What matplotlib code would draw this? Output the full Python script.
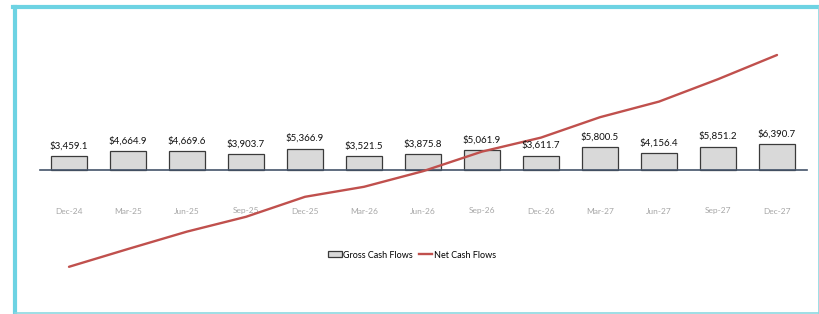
import matplotlib
matplotlib.use("Agg")
import matplotlib.pyplot as plt
from matplotlib.patches import Rectangle
from matplotlib.lines import Line2D

categories = ["Dec-24", "Mar-25", "Jun-25", "Sep-25", "Dec-25", "Mar-26", "Jun-26",
              "Sep-26", "Dec-26", "Mar-27", "Jun-27", "Sep-27", "Dec-27"]
gross_cash_flows = [3459.1, 4664.9, 4669.6, 3903.7, 5366.9, 3521.5, 3875.8,
                    5061.9, 3611.7, 5800.5, 4156.4, 5851.2, 6390.7]
net_cash_flows = [-24200, -19750, -15400, -11700, -6700, -4200, -300,
                  4600, 8100, 13200, 17100, 22700, 28750]

W, H = 820, 314
fig = plt.figure(figsize=(W / 100, H / 100), dpi=100)
fig.patch.set_facecolor("white")

ax = fig.add_axes([39.5 / W, 1 - 290 / H, (806.5 - 39.5) / W, 270 / H])
ax.set_facecolor("none")
x = list(range(len(categories)))

ax.bar(x, gross_cash_flows, width=0.6, color="#D9D9D9", edgecolor="#3A3A3A",
       linewidth=0.9, zorder=2)
ax.plot(x, net_cash_flows, color="#C0504D", linewidth=1.7, zorder=4,
        solid_capstyle="round")

for xi, v in zip(x, gross_cash_flows):
    ax.annotate(f"${v:,.1f}", (xi, v), xytext=(0, 4), textcoords="offset points",
                ha="center", va="bottom", fontsize=7, color="#111111",
                family="Lato", zorder=5)

ax.set_xlim(-0.5, len(categories) - 0.5)
ax.set_ylim(-30000, 37500)
for s in ["top", "right", "left"]:
    ax.spines[s].set_visible(False)
ax.spines["bottom"].set_position(("data", 0))
ax.spines["bottom"].set_color("#44546A")
ax.spines["bottom"].set_linewidth(1.2)
ax.spines["bottom"].set_zorder(3)
ax.set_yticks([])
ax.set_xticks(x)
ax.set_xticklabels(categories, fontsize=6, color="#A6A6A6", family="Lato")
ax.tick_params(axis="x", length=0, pad=27)

handles = [Rectangle((0, 0), 1, 1, facecolor="#D9D9D9", edgecolor="#3A3A3A", linewidth=0.9),
           Line2D([0], [0], color="#C0504D", linewidth=1.7)]
fig.legend(handles, ["Gross Cash Flows", "Net Cash Flows"], loc="center",
           bbox_to_anchor=(412 / W, 1 - 255 / H), ncol=2, frameon=False,
           prop={"family": "Lato", "size": 6.5}, handlelength=1.5, handleheight=0.6,
           handletextpad=0.2, columnspacing=0.6)

# frame
fig.add_artist(Line2D([15 / W, 15 / W], [1 - 7 / H, 1 - 313 / H], color="#6DD3E3",
                      linewidth=3, transform=fig.transFigure))
fig.add_artist(Line2D([13.5 / W, 820 / W], [1 - 7 / H, 1 - 7 / H], color="#6DD3E3",
                      linewidth=3, transform=fig.transFigure))
fig.add_artist(Line2D([819 / W, 819 / W], [1 - 7 / H, 1 - 313 / H], color="#8ED8E0",
                      linewidth=1.2, transform=fig.transFigure))
fig.add_artist(Line2D([15 / W, 820 / W], [1 - 313 / H, 1 - 313 / H], color="#8ED8E0",
                      linewidth=1.2, transform=fig.transFigure))

fig.savefig("out.png", dpi=100)
